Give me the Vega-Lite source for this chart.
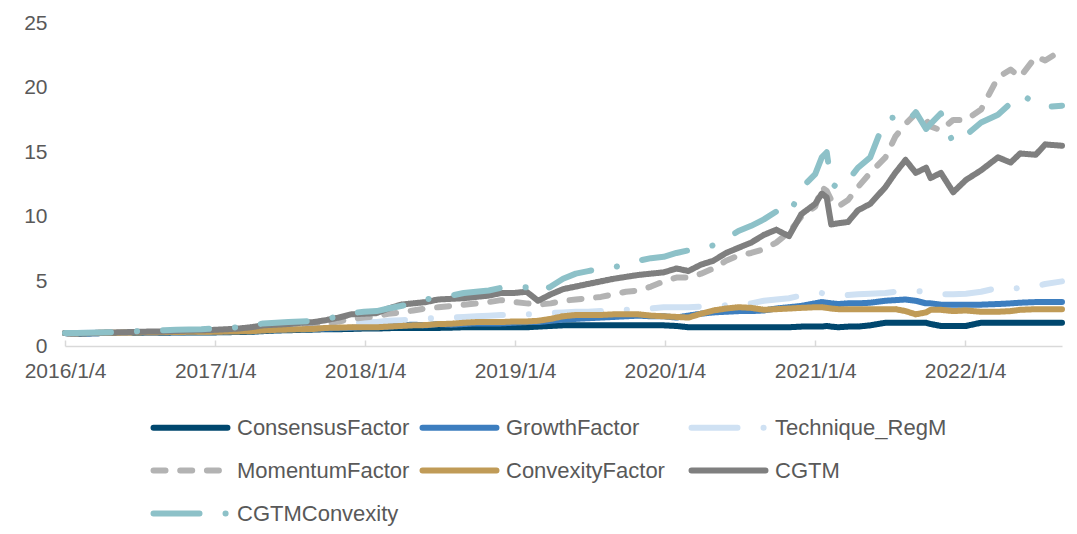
{
  "$schema": "https://vega.github.io/schema/vega-lite/v6.json",
  "width": 997,
  "height": 323,
  "autosize": {"type": "none"},
  "padding": {"left": 65, "top": 23, "right": 15, "bottom": 188},
  "background": "white",
  "config": {
    "view": {"stroke": null},
    "font": "Liberation Sans"
  },
  "data": {
    "values": [
      {"d":"2016-01-04","ConsensusFactor":1.0,"GrowthFactor":1.0,"Technique_RegM":1.0,"MomentumFactor":1.0,"ConvexityFactor":1.0,"CGTM":1.0,"CGTMConvexity":1.0},
      {"d":"2016-02-01","ConsensusFactor":0.95,"GrowthFactor":0.97,"Technique_RegM":1.0,"MomentumFactor":0.95,"ConvexityFactor":0.98,"CGTM":0.98,"CGTMConvexity":1.0},
      {"d":"2016-03-01","ConsensusFactor":0.97,"GrowthFactor":0.98,"Technique_RegM":1.02,"MomentumFactor":0.97,"ConvexityFactor":1.0,"CGTM":1.0,"CGTMConvexity":1.02},
      {"d":"2016-04-01","ConsensusFactor":1.0,"GrowthFactor":1.0,"Technique_RegM":1.05,"MomentumFactor":1.0,"ConvexityFactor":1.02,"CGTM":1.03,"CGTMConvexity":1.05},
      {"d":"2016-05-01","ConsensusFactor":1.0,"GrowthFactor":1.0,"Technique_RegM":1.07,"MomentumFactor":1.0,"ConvexityFactor":1.03,"CGTM":1.05,"CGTMConvexity":1.07},
      {"d":"2016-06-01","ConsensusFactor":1.0,"GrowthFactor":1.02,"Technique_RegM":1.08,"MomentumFactor":1.0,"ConvexityFactor":1.04,"CGTM":1.07,"CGTMConvexity":1.1},
      {"d":"2016-07-01","ConsensusFactor":1.02,"GrowthFactor":1.04,"Technique_RegM":1.1,"MomentumFactor":1.03,"ConvexityFactor":1.05,"CGTM":1.1,"CGTMConvexity":1.15},
      {"d":"2016-08-01","ConsensusFactor":1.03,"GrowthFactor":1.05,"Technique_RegM":1.12,"MomentumFactor":1.05,"ConvexityFactor":1.07,"CGTM":1.12,"CGTMConvexity":1.2},
      {"d":"2016-09-01","ConsensusFactor":1.03,"GrowthFactor":1.05,"Technique_RegM":1.13,"MomentumFactor":1.05,"ConvexityFactor":1.07,"CGTM":1.13,"CGTMConvexity":1.22},
      {"d":"2016-10-01","ConsensusFactor":1.04,"GrowthFactor":1.06,"Technique_RegM":1.15,"MomentumFactor":1.07,"ConvexityFactor":1.08,"CGTM":1.16,"CGTMConvexity":1.25},
      {"d":"2016-11-01","ConsensusFactor":1.05,"GrowthFactor":1.08,"Technique_RegM":1.18,"MomentumFactor":1.1,"ConvexityFactor":1.1,"CGTM":1.2,"CGTMConvexity":1.28},
      {"d":"2016-12-01","ConsensusFactor":1.05,"GrowthFactor":1.08,"Technique_RegM":1.2,"MomentumFactor":1.1,"ConvexityFactor":1.1,"CGTM":1.22,"CGTMConvexity":1.3},
      {"d":"2017-01-01","ConsensusFactor":1.05,"GrowthFactor":1.1,"Technique_RegM":1.25,"MomentumFactor":1.1,"ConvexityFactor":1.1,"CGTM":1.25,"CGTMConvexity":1.35},
      {"d":"2017-02-01","ConsensusFactor":1.07,"GrowthFactor":1.12,"Technique_RegM":1.3,"MomentumFactor":1.15,"ConvexityFactor":1.12,"CGTM":1.3,"CGTMConvexity":1.4},
      {"d":"2017-03-01","ConsensusFactor":1.08,"GrowthFactor":1.13,"Technique_RegM":1.32,"MomentumFactor":1.2,"ConvexityFactor":1.13,"CGTM":1.35,"CGTMConvexity":1.45},
      {"d":"2017-04-01","ConsensusFactor":1.1,"GrowthFactor":1.15,"Technique_RegM":1.35,"MomentumFactor":1.25,"ConvexityFactor":1.15,"CGTM":1.45,"CGTMConvexity":1.55},
      {"d":"2017-05-01","ConsensusFactor":1.15,"GrowthFactor":1.2,"Technique_RegM":1.45,"MomentumFactor":1.35,"ConvexityFactor":1.2,"CGTM":1.6,"CGTMConvexity":1.75},
      {"d":"2017-06-01","ConsensusFactor":1.2,"GrowthFactor":1.25,"Technique_RegM":1.5,"MomentumFactor":1.4,"ConvexityFactor":1.25,"CGTM":1.65,"CGTMConvexity":1.8},
      {"d":"2017-07-01","ConsensusFactor":1.22,"GrowthFactor":1.28,"Technique_RegM":1.55,"MomentumFactor":1.45,"ConvexityFactor":1.27,"CGTM":1.7,"CGTMConvexity":1.85},
      {"d":"2017-08-01","ConsensusFactor":1.25,"GrowthFactor":1.3,"Technique_RegM":1.6,"MomentumFactor":1.55,"ConvexityFactor":1.3,"CGTM":1.8,"CGTMConvexity":1.9},
      {"d":"2017-09-01","ConsensusFactor":1.27,"GrowthFactor":1.32,"Technique_RegM":1.62,"MomentumFactor":1.6,"ConvexityFactor":1.32,"CGTM":1.85,"CGTMConvexity":1.95},
      {"d":"2017-10-01","ConsensusFactor":1.3,"GrowthFactor":1.35,"Technique_RegM":1.7,"MomentumFactor":1.75,"ConvexityFactor":1.4,"CGTM":2.0,"CGTMConvexity":2.1},
      {"d":"2017-11-01","ConsensusFactor":1.3,"GrowthFactor":1.38,"Technique_RegM":1.75,"MomentumFactor":1.9,"ConvexityFactor":1.42,"CGTM":2.2,"CGTMConvexity":2.3},
      {"d":"2017-12-01","ConsensusFactor":1.32,"GrowthFactor":1.4,"Technique_RegM":1.8,"MomentumFactor":2.1,"ConvexityFactor":1.45,"CGTM":2.45,"CGTMConvexity":2.55},
      {"d":"2018-01-01","ConsensusFactor":1.35,"GrowthFactor":1.45,"Technique_RegM":1.85,"MomentumFactor":2.2,"ConvexityFactor":1.45,"CGTM":2.5,"CGTMConvexity":2.65},
      {"d":"2018-02-01","ConsensusFactor":1.35,"GrowthFactor":1.45,"Technique_RegM":1.85,"MomentumFactor":2.3,"ConvexityFactor":1.45,"CGTM":2.55,"CGTMConvexity":2.7},
      {"d":"2018-03-01","ConsensusFactor":1.38,"GrowthFactor":1.5,"Technique_RegM":1.95,"MomentumFactor":2.5,"ConvexityFactor":1.5,"CGTM":2.9,"CGTMConvexity":2.9},
      {"d":"2018-04-01","ConsensusFactor":1.4,"GrowthFactor":1.6,"Technique_RegM":2.0,"MomentumFactor":2.6,"ConvexityFactor":1.55,"CGTM":3.2,"CGTMConvexity":3.1},
      {"d":"2018-05-01","ConsensusFactor":1.4,"GrowthFactor":1.65,"Technique_RegM":2.05,"MomentumFactor":2.75,"ConvexityFactor":1.6,"CGTM":3.3,"CGTMConvexity":3.3},
      {"d":"2018-06-01","ConsensusFactor":1.4,"GrowthFactor":1.6,"Technique_RegM":2.1,"MomentumFactor":2.9,"ConvexityFactor":1.62,"CGTM":3.4,"CGTMConvexity":3.6},
      {"d":"2018-07-01","ConsensusFactor":1.4,"GrowthFactor":1.7,"Technique_RegM":2.2,"MomentumFactor":3.0,"ConvexityFactor":1.7,"CGTM":3.6,"CGTMConvexity":3.8},
      {"d":"2018-08-01","ConsensusFactor":1.42,"GrowthFactor":1.65,"Technique_RegM":2.2,"MomentumFactor":3.1,"ConvexityFactor":1.72,"CGTM":3.65,"CGTMConvexity":3.9},
      {"d":"2018-09-01","ConsensusFactor":1.45,"GrowthFactor":1.7,"Technique_RegM":2.25,"MomentumFactor":3.2,"ConvexityFactor":1.8,"CGTM":3.7,"CGTMConvexity":4.1},
      {"d":"2018-10-01","ConsensusFactor":1.45,"GrowthFactor":1.75,"Technique_RegM":2.3,"MomentumFactor":3.3,"ConvexityFactor":1.85,"CGTM":3.8,"CGTMConvexity":4.2},
      {"d":"2018-11-01","ConsensusFactor":1.45,"GrowthFactor":1.75,"Technique_RegM":2.35,"MomentumFactor":3.4,"ConvexityFactor":1.85,"CGTM":3.9,"CGTMConvexity":4.3},
      {"d":"2018-12-01","ConsensusFactor":1.45,"GrowthFactor":1.75,"Technique_RegM":2.4,"MomentumFactor":3.55,"ConvexityFactor":1.85,"CGTM":4.1,"CGTMConvexity":4.5},
      {"d":"2019-01-01","ConsensusFactor":1.45,"GrowthFactor":1.8,"Technique_RegM":2.4,"MomentumFactor":3.4,"ConvexityFactor":1.9,"CGTM":4.1,"CGTMConvexity":4.5},
      {"d":"2019-02-01","ConsensusFactor":1.45,"GrowthFactor":1.85,"Technique_RegM":2.45,"MomentumFactor":3.3,"ConvexityFactor":1.9,"CGTM":4.2,"CGTMConvexity":4.55},
      {"d":"2019-03-01","ConsensusFactor":1.5,"GrowthFactor":1.85,"Technique_RegM":2.45,"MomentumFactor":3.2,"ConvexityFactor":1.95,"CGTM":3.5,"CGTMConvexity":4.1},
      {"d":"2019-04-01","ConsensusFactor":1.55,"GrowthFactor":1.95,"Technique_RegM":2.55,"MomentumFactor":3.3,"ConvexityFactor":2.1,"CGTM":4.0,"CGTMConvexity":4.6},
      {"d":"2019-05-01","ConsensusFactor":1.6,"GrowthFactor":2.05,"Technique_RegM":2.6,"MomentumFactor":3.5,"ConvexityFactor":2.3,"CGTM":4.4,"CGTMConvexity":5.2},
      {"d":"2019-06-01","ConsensusFactor":1.6,"GrowthFactor":2.1,"Technique_RegM":2.65,"MomentumFactor":3.6,"ConvexityFactor":2.4,"CGTM":4.6,"CGTMConvexity":5.6},
      {"d":"2019-07-01","ConsensusFactor":1.6,"GrowthFactor":2.15,"Technique_RegM":2.65,"MomentumFactor":3.7,"ConvexityFactor":2.4,"CGTM":4.8,"CGTMConvexity":5.8},
      {"d":"2019-08-01","ConsensusFactor":1.6,"GrowthFactor":2.2,"Technique_RegM":2.7,"MomentumFactor":3.8,"ConvexityFactor":2.4,"CGTM":5.0,"CGTMConvexity":6.0},
      {"d":"2019-09-01","ConsensusFactor":1.6,"GrowthFactor":2.25,"Technique_RegM":2.7,"MomentumFactor":4.0,"ConvexityFactor":2.45,"CGTM":5.2,"CGTMConvexity":6.1},
      {"d":"2019-10-01","ConsensusFactor":1.6,"GrowthFactor":2.3,"Technique_RegM":2.8,"MomentumFactor":4.2,"ConvexityFactor":2.45,"CGTM":5.35,"CGTMConvexity":6.3},
      {"d":"2019-11-01","ConsensusFactor":1.6,"GrowthFactor":2.35,"Technique_RegM":2.85,"MomentumFactor":4.3,"ConvexityFactor":2.45,"CGTM":5.5,"CGTMConvexity":6.6},
      {"d":"2019-12-01","ConsensusFactor":1.6,"GrowthFactor":2.3,"Technique_RegM":2.9,"MomentumFactor":4.6,"ConvexityFactor":2.35,"CGTM":5.6,"CGTMConvexity":6.8},
      {"d":"2020-01-01","ConsensusFactor":1.6,"GrowthFactor":2.3,"Technique_RegM":3.0,"MomentumFactor":5.0,"ConvexityFactor":2.3,"CGTM":5.7,"CGTMConvexity":6.9},
      {"d":"2020-02-01","ConsensusFactor":1.55,"GrowthFactor":2.2,"Technique_RegM":3.0,"MomentumFactor":5.3,"ConvexityFactor":2.25,"CGTM":6.0,"CGTMConvexity":7.2},
      {"d":"2020-03-01","ConsensusFactor":1.45,"GrowthFactor":2.35,"Technique_RegM":3.0,"MomentumFactor":5.3,"ConvexityFactor":2.2,"CGTM":5.8,"CGTMConvexity":7.4},
      {"d":"2020-04-01","ConsensusFactor":1.45,"GrowthFactor":2.5,"Technique_RegM":3.05,"MomentumFactor":5.6,"ConvexityFactor":2.5,"CGTM":6.3,"CGTMConvexity":7.5},
      {"d":"2020-05-01","ConsensusFactor":1.45,"GrowthFactor":2.6,"Technique_RegM":3.1,"MomentumFactor":6.0,"ConvexityFactor":2.75,"CGTM":6.6,"CGTMConvexity":7.8},
      {"d":"2020-06-01","ConsensusFactor":1.45,"GrowthFactor":2.65,"Technique_RegM":3.15,"MomentumFactor":6.6,"ConvexityFactor":2.9,"CGTM":7.2,"CGTMConvexity":8.3},
      {"d":"2020-07-01","ConsensusFactor":1.45,"GrowthFactor":2.7,"Technique_RegM":3.2,"MomentumFactor":7.0,"ConvexityFactor":3.0,"CGTM":7.6,"CGTMConvexity":8.9},
      {"d":"2020-08-01","ConsensusFactor":1.45,"GrowthFactor":2.7,"Technique_RegM":3.3,"MomentumFactor":7.2,"ConvexityFactor":2.95,"CGTM":8.0,"CGTMConvexity":9.3},
      {"d":"2020-09-01","ConsensusFactor":1.45,"GrowthFactor":2.75,"Technique_RegM":3.5,"MomentumFactor":7.5,"ConvexityFactor":2.8,"CGTM":8.6,"CGTMConvexity":9.8},
      {"d":"2020-10-01","ConsensusFactor":1.45,"GrowthFactor":2.9,"Technique_RegM":3.6,"MomentumFactor":8.0,"ConvexityFactor":2.85,"CGTM":9.0,"CGTMConvexity":10.4},
      {"d":"2020-11-01","ConsensusFactor":1.45,"GrowthFactor":3.0,"Technique_RegM":3.7,"MomentumFactor":8.8,"ConvexityFactor":2.9,"CGTM":8.5,"CGTMConvexity":10.1},
      {"d":"2020-12-01","ConsensusFactor":1.5,"GrowthFactor":3.1,"Technique_RegM":3.9,"MomentumFactor":10.0,"ConvexityFactor":2.95,"CGTM":10.2,"CGTMConvexity":12.2},
      {"d":"2021-01-04","ConsensusFactor":1.5,"GrowthFactor":3.3,"Technique_RegM":4.0,"MomentumFactor":10.8,"ConvexityFactor":3.0,"CGTM":11.0,"CGTMConvexity":13.3},
      {"d":"2021-01-20","ConsensusFactor":1.5,"GrowthFactor":3.4,"Technique_RegM":4.1,"MomentumFactor":12.3,"ConvexityFactor":3.0,"CGTM":11.8,"CGTMConvexity":14.6},
      {"d":"2021-02-01","ConsensusFactor":1.55,"GrowthFactor":3.35,"Technique_RegM":4.0,"MomentumFactor":12.0,"ConvexityFactor":2.95,"CGTM":11.5,"CGTMConvexity":15.0},
      {"d":"2021-02-12","ConsensusFactor":1.5,"GrowthFactor":3.3,"Technique_RegM":3.95,"MomentumFactor":11.3,"ConvexityFactor":2.9,"CGTM":9.4,"CGTMConvexity":12.6},
      {"d":"2021-03-01","ConsensusFactor":1.45,"GrowthFactor":3.25,"Technique_RegM":3.9,"MomentumFactor":10.8,"ConvexityFactor":2.85,"CGTM":9.5,"CGTMConvexity":12.2},
      {"d":"2021-03-25","ConsensusFactor":1.5,"GrowthFactor":3.3,"Technique_RegM":3.95,"MomentumFactor":11.3,"ConvexityFactor":2.85,"CGTM":9.6,"CGTMConvexity":12.8},
      {"d":"2021-04-18","ConsensusFactor":1.5,"GrowthFactor":3.3,"Technique_RegM":4.0,"MomentumFactor":12.3,"ConvexityFactor":2.85,"CGTM":10.5,"CGTMConvexity":13.8},
      {"d":"2021-05-18","ConsensusFactor":1.6,"GrowthFactor":3.35,"Technique_RegM":4.05,"MomentumFactor":13.4,"ConvexityFactor":2.85,"CGTM":11.0,"CGTMConvexity":14.6},
      {"d":"2021-06-24","ConsensusFactor":1.8,"GrowthFactor":3.5,"Technique_RegM":4.1,"MomentumFactor":14.6,"ConvexityFactor":2.85,"CGTM":12.3,"CGTMConvexity":17.6},
      {"d":"2021-07-18","ConsensusFactor":1.8,"GrowthFactor":3.55,"Technique_RegM":4.2,"MomentumFactor":16.2,"ConvexityFactor":2.85,"CGTM":13.4,"CGTMConvexity":17.7},
      {"d":"2021-08-12","ConsensusFactor":1.8,"GrowthFactor":3.6,"Technique_RegM":4.2,"MomentumFactor":17.2,"ConvexityFactor":2.7,"CGTM":14.4,"CGTMConvexity":17.2},
      {"d":"2021-09-06","ConsensusFactor":1.8,"GrowthFactor":3.5,"Technique_RegM":4.25,"MomentumFactor":18.0,"ConvexityFactor":2.45,"CGTM":13.4,"CGTMConvexity":18.1},
      {"d":"2021-10-01","ConsensusFactor":1.8,"GrowthFactor":3.3,"Technique_RegM":4.2,"MomentumFactor":17.5,"ConvexityFactor":2.6,"CGTM":13.8,"CGTMConvexity":16.8},
      {"d":"2021-10-12","ConsensusFactor":1.7,"GrowthFactor":3.3,"Technique_RegM":4.1,"MomentumFactor":17.0,"ConvexityFactor":2.8,"CGTM":13.0,"CGTMConvexity":17.2},
      {"d":"2021-11-06","ConsensusFactor":1.55,"GrowthFactor":3.2,"Technique_RegM":4.0,"MomentumFactor":16.7,"ConvexityFactor":2.8,"CGTM":13.4,"CGTMConvexity":18.0},
      {"d":"2021-12-06","ConsensusFactor":1.55,"GrowthFactor":3.2,"Technique_RegM":4.0,"MomentumFactor":17.5,"ConvexityFactor":2.7,"CGTM":11.9,"CGTMConvexity":15.7},
      {"d":"2022-01-06","ConsensusFactor":1.55,"GrowthFactor":3.2,"Technique_RegM":4.05,"MomentumFactor":17.5,"ConvexityFactor":2.75,"CGTM":12.85,"CGTMConvexity":16.3},
      {"d":"2022-02-12","ConsensusFactor":1.8,"GrowthFactor":3.2,"Technique_RegM":4.2,"MomentumFactor":18.3,"ConvexityFactor":2.65,"CGTM":13.6,"CGTMConvexity":17.3},
      {"d":"2022-03-25","ConsensusFactor":1.8,"GrowthFactor":3.25,"Technique_RegM":4.5,"MomentumFactor":20.8,"ConvexityFactor":2.65,"CGTM":14.6,"CGTMConvexity":17.9},
      {"d":"2022-04-25","ConsensusFactor":1.8,"GrowthFactor":3.3,"Technique_RegM":4.4,"MomentumFactor":21.4,"ConvexityFactor":2.7,"CGTM":14.2,"CGTMConvexity":18.8},
      {"d":"2022-05-18","ConsensusFactor":1.8,"GrowthFactor":3.35,"Technique_RegM":4.5,"MomentumFactor":20.8,"ConvexityFactor":2.8,"CGTM":14.9,"CGTMConvexity":19.5},
      {"d":"2022-06-25","ConsensusFactor":1.8,"GrowthFactor":3.4,"Technique_RegM":4.6,"MomentumFactor":22.4,"ConvexityFactor":2.85,"CGTM":14.8,"CGTMConvexity":18.8},
      {"d":"2022-07-18","ConsensusFactor":1.8,"GrowthFactor":3.4,"Technique_RegM":4.8,"MomentumFactor":22.1,"ConvexityFactor":2.85,"CGTM":15.6,"CGTMConvexity":18.5},
      {"d":"2022-08-28","ConsensusFactor":1.8,"GrowthFactor":3.4,"Technique_RegM":5.0,"MomentumFactor":22.9,"ConvexityFactor":2.85,"CGTM":15.5,"CGTMConvexity":18.6}
    ]
  },
  "transform": [
    {"fold": ["ConsensusFactor","GrowthFactor","Technique_RegM","MomentumFactor","ConvexityFactor","CGTM","CGTMConvexity"], "as": ["series","value"]}
  ],
  "mark": {"type": "line", "strokeWidth": 6, "strokeCap": "round", "strokeJoin": "round", "clip": false},
  "encoding": {
    "x": {
      "field": "d", "type": "temporal",
      "scale": {"type": "utc", "domain": [{"year":2016,"month":1,"date":4,"utc":true},{"year":2022,"month":8,"date":28,"utc":true}], "nice": false},
      "axis": {
        "title": null,
        "values": [
          {"year":2016,"month":1,"date":4,"utc":true},
          {"year":2017,"month":1,"date":4,"utc":true},
          {"year":2018,"month":1,"date":4,"utc":true},
          {"year":2019,"month":1,"date":4,"utc":true},
          {"year":2020,"month":1,"date":4,"utc":true},
          {"year":2021,"month":1,"date":4,"utc":true},
          {"year":2022,"month":1,"date":4,"utc":true}
        ],
        "labelExpr": "utcFormat(datum.value, '%Y/%-m/%-d')",
        "grid": false,
        "domainColor": "#d9d9d9",
        "domainWidth": 1.5,
        "tickColor": "#d9d9d9",
        "tickWidth": 1.5,
        "tickSize": -6,
        "labelPadding": 20,
        "labelFontSize": 21,
        "labelColor": "#595959",
        "labelFont": "Liberation Sans",
        "labelOverlap": false,
        "labelFlush": false
      }
    },
    "y": {
      "field": "value", "type": "quantitative",
      "scale": {"domain": [0, 25], "nice": false},
      "axis": {
        "title": null,
        "values": [0, 5, 10, 15, 20, 25],
        "grid": false,
        "domain": false,
        "ticks": false,
        "labelPadding": 18,
        "labelFontSize": 21,
        "labelColor": "#595959",
        "labelFont": "Liberation Sans"
      }
    },
    "color": {
      "field": "series", "type": "nominal",
      "scale": {
        "domain": ["ConsensusFactor","GrowthFactor","Technique_RegM","MomentumFactor","ConvexityFactor","CGTM","CGTMConvexity"],
        "range": ["#00476e","#3d7ebf","#cfe1f3","#b3b3b3","#c09b57","#7f7f7f","#8dc1c8"]
      },
      "legend": {
        "title": null,
        "orient": "none",
        "direction": "horizontal",
        "legendX": 113,
        "legendY": 392,
        "columns": 3,
        "gridAlign": "all",
        "symbolType": "M-4,0H4",
        "symbolSize": 342,
        "symbolStrokeWidth": 6,
        "labelFontSize": 22,
        "labelColor": "#595959",
        "labelFont": "Liberation Sans",
        "labelOffset": 34,
        "labelLimit": 300,
        "columnPadding": 0,
        "rowPadding": 18,
        "encode": {"symbols": {"update": {"strokeCap": {"value": "round"}}}}
      }
    },
    "strokeDash": {
      "field": "series", "type": "nominal",
      "scale": {
        "domain": ["ConsensusFactor","GrowthFactor","Technique_RegM","MomentumFactor","ConvexityFactor","CGTM","CGTMConvexity"],
        "range": [[1,0],[1,0],[46,26,0.1,26],[12,14.7],[1,0],[1,0],[46,26,0.1,26]]
      },
      "legend": null
    }
  }
}
